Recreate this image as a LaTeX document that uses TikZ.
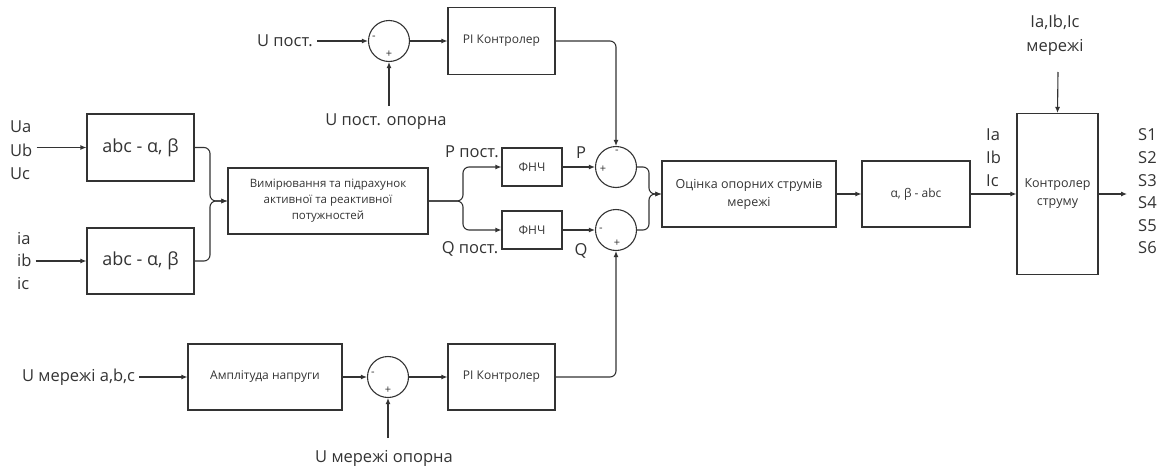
\documentclass[tikz,border=0pt]{standalone}
\usepackage{fontspec}
\setmainfont{Open Sans}
\usetikzlibrary{arrows.meta}
\definecolor{ink}{HTML}{333333}
\begin{document}
\begin{tikzpicture}[x=1pt,y=-1pt,
  line/.style={draw=ink, line width=1.1pt},
  arr/.style={line, -{Latex[length=6pt,width=5pt]}},
  blk/.style={draw=ink, line width=1.1pt, inner sep=0pt, align=center, text=ink},
  sm/.style={font=\fontsize{12}{16}\selectfont},
  lg/.style={font=\fontsize{16.5}{19}\selectfont},
  lbl/.style={text=ink, inner sep=1pt},
  src/.style={text=ink, inner sep=4pt},
  sumc/.style={circle, draw=ink, line width=1.1pt, minimum size=41pt, inner sep=0pt},
  sgn/.style={text=ink, inner sep=0pt, font=\fontsize{11}{11}\selectfont}]
\useasboundingbox (0,0) rectangle (1163,469);

% ---- blocks ----
\node[blk, font=\fontsize{18}{20}\selectfont, minimum width=107pt, minimum height=67pt] (abc1) at (140.5,147.5) {abc - α, β};
\node[blk, font=\fontsize{18}{20}\selectfont, minimum width=107pt, minimum height=66pt] (abc2) at (140.5,261) {abc - α, β};
\node[blk, font=\fontsize{11.5}{16}\selectfont, minimum width=200pt, minimum height=66pt] (vym) at (328,201) {Вимірювання та підрахунок\\активної та реактивної\\потужностей};
\node[blk, sm, minimum width=60pt, minimum height=38pt] (fp) at (532,167) {ФНЧ};
\node[blk, sm, minimum width=60pt, minimum height=38pt] (fq) at (532,230) {ФНЧ};
\node[sumc] (ps) at (616,167) {};
\node[sumc] (qs) at (616,230) {};
\node[blk, font=\fontsize{12.5}{18}\selectfont, minimum width=174pt, minimum height=66pt] (ocin) at (749,194) {Оцінка опорних струмів\\мережі};
\node[blk, sm, minimum width=108pt, minimum height=66pt] (ab) at (916,194) {α, β - abc};
\node[blk, font=\fontsize{12.5}{18}\selectfont, minimum width=81pt, minimum height=161pt] (ctl) at (1057.5,194) {Контролер\\струму};

% top row
\node[src, lg, anchor=west] (uc) at (253,41) {U пост.};
\node[sumc] (s1) at (389,41) {};
\node[blk, sm, minimum width=107pt, minimum height=67pt] (pi1) at (501.5,41) {PI Контролер};
\node[lbl, lg] (ucref) at (386,122) {U пост. опорна};
\coordinate (ucrefa) at (389,106);

% bottom row
\node[src, lg, anchor=west] (um) at (18,377) {U мережі a,b,c};
\node[blk, sm, minimum width=154pt, minimum height=66pt] (amp) at (265,377) {Амплітуда напруги};
\node[sumc] (s3) at (388,377) {};
\node[blk, sm, minimum width=107pt, minimum height=66pt] (pi2) at (501.5,377) {PI Контролер};
\node[lbl, lg] (umref) at (384,458) {U мережі опорна};
\coordinate (umrefa) at (388,438);

% labels
\node[src, anchor=west, align=left, font=\fontsize{16.5}{23.5}\selectfont] (uin) at (6,150.5) {Ua\\Ub\\Uc};
\node[src, anchor=west, align=left, font=\fontsize{16.5}{22.5}\selectfont] (iin) at (13,261) {ia\\ib\\ic};
\node[lbl, lg] (pconst) at (472,152) {P пост.};
\node[lbl, lg] (qconst) at (470,249) {Q пост.};
\node[lbl, lg] (plab) at (581,153) {P};
\node[lbl, lg] (qlab) at (581,251) {Q};
\node[lbl, anchor=west, align=left, font=\fontsize{16.5}{23}\selectfont] (iabc) at (985,158) {Ia\\Ib\\Ic};
\node[lbl, anchor=west, align=left, font=\fontsize{16.5}{22.6}\selectfont] (slist) at (1137,191.5) {S1\\S2\\S3\\S4\\S5\\S6};
\node[lbl, align=center, font=\fontsize{16.5}{24}\selectfont] (ctlin) at (1055,35) {Ia,Ib,Ic\\мережі};
\coordinate (ctltop) at (1058,72);
\coordinate (sout) at (1127,194);

% signs
\node[sgn] (s1m) at (374,38) {-};
\node[sgn] (s1p) at (389,54) {+};
\node[sgn] (psm) at (617,152) {-};
\node[sgn] (psp) at (603,169) {+};
\node[sgn] (qsm) at (601,230) {-};
\node[sgn] (qsp) at (617,243) {+};
\node[sgn] (s3m) at (373,374) {-};
\node[sgn] (s3p) at (388,390) {+};

% ---- connectors ----
\draw[arr] (uc.east) -- (s1.west);
\draw[arr] (s1.east) -- (pi1.west);
\draw[arr] (ucrefa) -- (s1.south);
\draw[arr, rounded corners=6pt] (pi1.east) -| (ps.north);

\draw[arr] (uin.east |- abc1.west) -- (abc1.west);
\draw[arr] (iin.east |- abc2.west) -- (abc2.west);
\coordinate (j1) at (210,201);
\draw[arr, rounded corners=6pt] (abc1.east) -| (j1) -- (vym.west);
\draw[arr, rounded corners=6pt] (abc2.east) -| (j1) -- (vym.west);
\coordinate (j2) at (463,201);
\draw[arr, rounded corners=6pt] (vym.east) -- (j2) |- (fp.west);
\draw[arr, rounded corners=6pt] (vym.east) -- (j2) |- (fq.west);
\draw[arr] (fp.east) -- (ps.west);
\draw[arr] (fq.east) -- (qs.west);
\coordinate (j3) at (649,194);
\draw[arr, rounded corners=6pt] (ps.east) -| (j3) -- (ocin.west);
\draw[arr, rounded corners=6pt] (qs.east) -| (j3) -- (ocin.west);
\draw[arr] (ocin.east) -- (ab.west);
\draw[arr] (ab.east) -- (ctl.west);
\draw[arr] (ctltop) -- (ctl.north);
\draw[arr] (ctl.east) -- (sout);

\draw[arr] (um.east) -- (amp.west);
\draw[arr] (amp.east) -- (s3.west);
\draw[arr] (s3.east) -- (pi2.west);
\draw[arr] (umrefa) -- (s3.south);
\draw[arr, rounded corners=6pt] (pi2.east) -| (qs.south);
\end{tikzpicture}
\end{document}
